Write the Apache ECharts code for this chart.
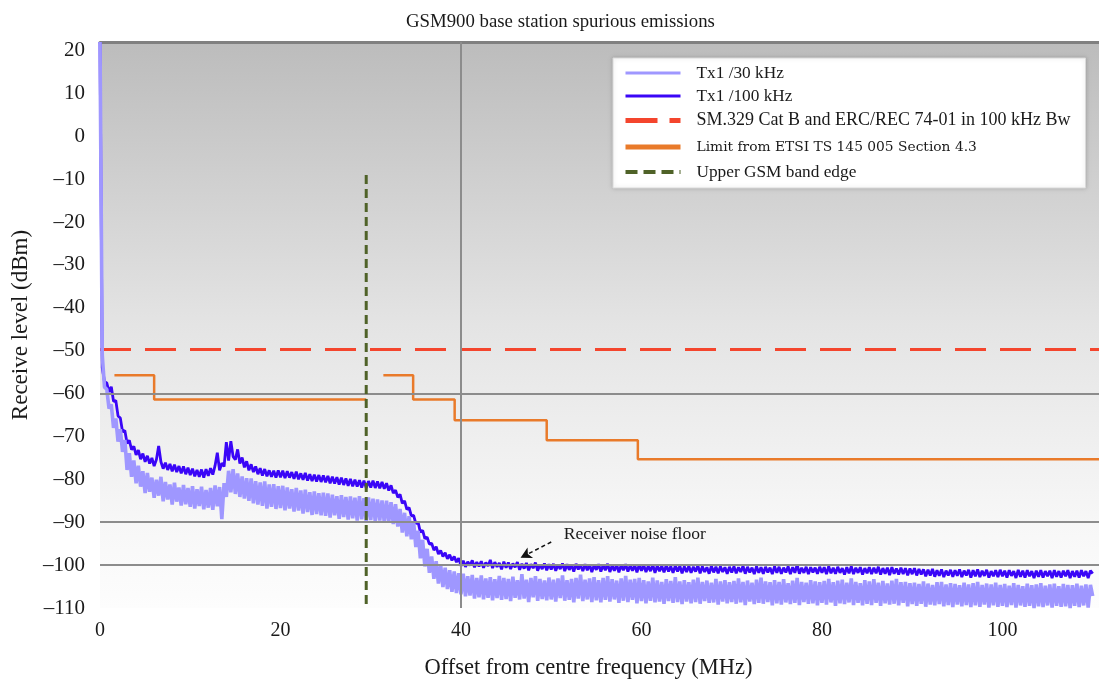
<!DOCTYPE html>
<html>
<head>
<meta charset="utf-8">
<title>GSM900 base station spurious emissions</title>
<script src="https://cdn.jsdelivr.net/npm/echarts@6/dist/echarts.min.js"></script>
<style>
  html, body { margin: 0; padding: 0; background: #ffffff; }
  #chart { width: 1099px; height: 680px; }
</style>
</head>
<body>
<div id="chart"></div>
<script>
// Offset grid of the measured traces: one sample every 0.25 MHz from 0 MHz.
const FREQ_STEP_MHZ = 0.25;

// Tx1 measured with 30 kHz resolution bandwidth (dBm), 0 .. 110 MHz
const tx1Rbw30k = [
  22, -51, -58.5, -59, -63.5, -62.5, -68, -65.8, -71.2, -68.3, -73.6, -70.8, -77.8, -73.9, -79.4, -75.6, -80.9, -76.8, -81.7, -78.1,
  -83.2, -78.5, -82.9, -79.6, -84.3, -80.1, -83.8, -79.4, -85.1, -80.6, -84.7, -81.2, -85.9, -80.8, -85.2, -81.9, -86.1, -81.3, -85.8, -82.0,
  -86.4, -81.6, -86.8, -82.3, -86.2, -81.7, -87.0, -82.5, -86.6, -82.0, -87.1, -81.4, -86.3, -81.8, -89.3, -80.9, -84.1, -78.0, -83.0, -77.6,
  -83.4, -78.6, -84.1, -79.3, -84.5, -79.7, -85.0, -79.8, -85.6, -80.4, -85.9, -80.7, -86.2, -80.5, -86.8, -81.2, -86.4, -81.1, -86.9, -81.6,
  -86.7, -81.5, -87.2, -81.9, -86.8, -82.3, -87.5, -82.0, -87.3, -82.6, -88.0, -82.4, -87.6, -83.0, -88.3, -82.8, -88.1, -83.2, -88.4, -83.1,
  -88.5, -83.3, -88.9, -83.6, -88.4, -83.9, -89.2, -83.7, -88.8, -84.1, -89.4, -84.0, -89.1, -84.3, -89.6, -83.9, -89.3, -84.4, -89.7, -84.2,
  -89.5, -84.5, -89.8, -84.7, -89.6, -84.9, -90.0, -85.0, -89.9, -85.3, -90.4, -85.8, -91.0, -86.9, -92.4, -87.8, -93.3, -88.6, -94.0, -89.9,
  -95.8, -92.0, -98.4, -94.1, -100.3, -96.2, -101.8, -98.0, -103.2, -99.1, -104.3, -100.0, -105.1, -100.6, -105.6, -101.2, -106.2, -101.5, -106.5, -101.9,
  -106.8, -102.0, -107.3, -102.6, -107.1, -102.3, -107.8, -103.0, -107.5, -102.4, -108.0, -103.1, -107.6, -102.8, -108.2, -103.3, -107.7, -102.5, -108.1, -103.0,
  -107.9, -103.2, -108.4, -102.7, -107.6, -103.5, -108.0, -102.1, -107.8, -103.4, -108.6, -103.0, -107.5, -102.6, -108.3, -103.2, -107.9, -103.6, -108.2, -102.9,
  -108.0, -103.4, -108.5, -103.1, -107.7, -102.4, -108.3, -103.5, -108.1, -103.2, -108.7, -103.0, -107.8, -102.2, -108.4, -103.4, -108.0, -103.1, -108.6, -102.8,
  -108.2, -103.5, -108.7, -103.0, -108.1, -102.6, -108.5, -103.3, -108.0, -103.6, -108.8, -103.1, -108.3, -102.5, -108.6, -103.4, -108.1, -103.2, -108.9, -103.0,
  -108.4, -103.5, -108.9, -103.8, -108.3, -102.9, -108.7, -103.6, -108.5, -103.9, -109.0, -103.3, -108.4, -103.7, -108.8, -102.8, -108.6, -103.8, -109.1, -103.5,
  -108.5, -104.0, -108.9, -103.4, -108.6, -102.9, -109.0, -103.9, -108.4, -103.6, -108.8, -104.1, -108.7, -103.2, -109.2, -103.8, -108.5, -103.5, -108.9, -104.0,
  -108.6, -103.7, -109.0, -103.1, -108.7, -103.9, -109.3, -103.6, -108.5, -104.1, -109.1, -103.4, -108.8, -102.9, -109.0, -103.8, -108.6, -104.0, -109.4, -103.5,
  -108.9, -103.9, -109.2, -103.3, -108.7, -104.2, -109.1, -103.6, -108.8, -103.0, -109.3, -103.9, -108.6, -104.1, -109.0, -103.5, -108.9, -103.8, -109.4, -104.0,
  -108.8, -103.7, -109.2, -103.2, -108.7, -104.0, -109.5, -103.6, -108.9, -103.4, -109.1, -104.1, -108.7, -103.1, -109.3, -103.9, -108.8, -104.2, -109.4, -103.5,
  -109.0, -103.8, -109.3, -103.3, -108.8, -104.1, -109.5, -103.7, -108.9, -104.3, -109.2, -103.6, -109.0, -103.2, -109.4, -104.0, -108.8, -103.9, -109.6, -104.2,
  -109.1, -104.1, -109.5, -104.4, -109.0, -103.8, -109.7, -104.3, -109.2, -104.6, -109.4, -104.0, -109.1, -103.9, -109.6, -104.5, -109.3, -104.2, -109.8, -104.4,
  -109.2, -104.7, -109.6, -104.1, -109.3, -104.5, -109.8, -104.2, -109.4, -103.9, -109.7, -104.6, -109.2, -104.3, -109.9, -104.5, -109.4, -104.1, -109.7, -104.6,
  -109.5, -104.4, -109.8, -104.8, -109.3, -104.2, -109.9, -104.6, -109.4, -104.9, -109.7, -104.3, -109.5, -104.7, -110.0, -104.5, -109.6, -104.2, -109.8, -104.8,
  -109.4, -104.5, -109.9, -104.3, -109.5, -104.9, -109.7, -104.4, -109.6, -104.6, -110.0, -104.7, -109.5, -104.3, -109.8, -104.8, -109.4, -104.5, -109.9, -104.6,
  -107.2
];

// Tx1 measured with 100 kHz resolution bandwidth (dBm), 0 .. 110 MHz
const tx1Rbw100k = [
  22, -54.0, -57.2, -57.5, -59.6, -58.4, -61.8, -61.6, -65.2, -65.7, -68.9, -68.6, -71.6, -70.9, -73.1, -72.3, -74.3, -73.2, -75.3, -74.0,
  -75.9, -74.5, -76.3, -75.0, -76.9, -75.4, -72.2, -75.9, -77.5, -76.1, -77.8, -76.4, -78.1, -76.6, -78.3, -76.9, -78.6, -77.0, -78.8, -77.3,
  -79.0, -77.5, -79.3, -77.8, -79.4, -77.7, -79.6, -77.6, -79.2, -77.4, -78.9, -76.8, -73.8, -77.9, -76.2, -77.0, -71.3, -75.6, -71.1, -74.7,
  -75.4, -73.0, -76.3, -74.9, -77.2, -75.8, -77.9, -76.5, -78.3, -77.0, -78.8, -77.4, -79.1, -77.6, -79.3, -77.9, -79.4, -78.0, -79.6, -77.9,
  -79.5, -78.0, -79.7, -78.1, -79.6, -78.3, -79.9, -78.2, -80.0, -78.6, -80.1, -78.5, -80.3, -78.8, -80.4, -78.9, -80.5, -79.0, -80.6, -79.1,
  -80.7, -79.2, -80.9, -79.4, -81.0, -79.5, -81.2, -79.6, -81.3, -79.8, -81.5, -79.9, -81.6, -80.1, -81.7, -80.2, -81.9, -80.3, -82.0, -80.4,
  -81.9, -80.3, -82.0, -80.5, -82.1, -80.6, -82.2, -80.9, -82.6, -81.4, -83.2, -82.5, -84.2, -83.5, -85.6, -85.0, -87.0, -86.6, -88.5, -88.4,
  -90.3, -90.0, -92.3, -91.9, -93.8, -93.5, -95.1, -94.9, -96.5, -95.7, -97.4, -96.6, -98.0, -97.1, -98.5, -97.6, -98.9, -98.0, -99.3, -98.4,
  -100.2, -99.0, -100.4, -99.2, -100.1, -98.9, -100.5, -99.3, -100.3, -99.1, -100.6, -99.4, -100.2, -98.8, -100.7, -99.3, -100.4, -99.5, -101.0, -99.2,
  -100.6, -99.4, -100.9, -99.6, -100.5, -99.3, -101.1, -99.7, -100.8, -99.5, -101.2, -99.8, -100.7, -99.4, -101.3, -99.9, -100.9, -99.6, -101.2, -99.8,
  -101.0, -99.7, -101.3, -99.9, -100.9, -99.6, -101.4, -99.8, -101.1, -99.9, -101.5, -99.7, -101.0, -100.0, -101.4, -99.8, -101.2, -99.9, -101.6, -100.0,
  -101.1, -99.8, -101.5, -100.0, -101.2, -99.7, -101.6, -100.1, -101.3, -99.9, -101.7, -100.0, -101.2, -99.8, -101.5, -100.1, -101.3, -100.0, -101.7, -99.9,
  -101.3, -100.0, -101.6, -100.2, -101.4, -99.9, -101.8, -100.1, -101.4, -100.2, -101.7, -100.0, -101.5, -100.3, -101.8, -100.1, -101.5, -100.2, -101.9, -100.3,
  -101.6, -100.2, -101.8, -100.4, -101.5, -100.1, -101.9, -100.3, -101.6, -100.5, -102.0, -100.2, -101.7, -100.4, -101.9, -100.3, -101.6, -100.5, -102.0, -100.4,
  -101.7, -100.3, -101.9, -100.5, -101.6, -100.2, -102.0, -100.4, -101.7, -100.6, -102.1, -100.3, -101.8, -100.5, -102.0, -100.4, -101.7, -100.6, -102.1, -100.3,
  -101.8, -100.4, -102.0, -100.6, -101.7, -100.3, -102.1, -100.5, -101.8, -99.9, -102.0, -100.6, -101.8, -100.4, -102.1, -100.5, -101.7, -100.6, -102.0, -100.4,
  -101.8, -100.5, -102.1, -100.3, -101.9, -100.6, -102.0, -100.4, -101.8, -100.7, -102.2, -100.5, -101.9, -100.3, -102.1, -100.6, -101.8, -100.5, -102.2, -100.7,
  -101.9, -100.5, -102.1, -100.6, -101.9, -100.4, -102.2, -100.7, -102.0, -100.6, -102.3, -100.5, -102.0, -100.8, -102.2, -100.6, -102.1, -100.7, -102.4, -100.8,
  -102.1, -100.7, -102.4, -100.9, -102.2, -101.0, -102.6, -101.1, -102.4, -100.9, -102.7, -101.2, -102.5, -101.0, -102.8, -101.3, -102.4, -101.1, -102.7, -101.2,
  -102.5, -101.0, -102.8, -101.3, -102.4, -101.1, -102.9, -101.2, -102.6, -101.0, -102.8, -101.3, -102.5, -101.1, -102.9, -101.4, -102.6, -101.2, -102.8, -101.1,
  -102.6, -101.3, -102.9, -101.2, -102.5, -101.4, -103.0, -101.1, -102.7, -101.3, -102.9, -101.2, -102.6, -101.4, -103.0, -101.3, -102.7, -101.2, -102.9, -101.4,
  -102.6, -101.3, -103.0, -101.2, -102.7, -101.4, -102.9, -101.3, -102.6, -101.2, -103.0, -101.4, -102.7, -101.3, -102.9, -101.2, -102.6, -101.4, -103.0, -101.3,
  -102.0
];

// SM.329 Category B / ERC/REC 74-01 limit in 100 kHz bandwidth (dBm)
const sm329Freq = [0, 110.7];
const sm329Level = [-49.7, -49.7];

// ETSI TS 145 005 section 4.3 limit, stepped (below and above the band edge)
const etsiLowFreq = [1.6, 6.0, 29.5];
const etsiLowLevel = [-55.7, -61.4, -61.4];
const etsiHighFreq = [31.4, 34.7, 39.3, 49.5, 59.6, 110.7];
const etsiHighLevel = [-55.7, -61.4, -66.2, -70.9, -75.3, -75.3];

// Upper edge of the GSM band
const bandEdgeFreq = [29.5, 29.5];
const bandEdgeLevel = [-9, -110];

// Reference lines drawn across the plot
const refLevels = [-60, -90, -100];
const refFreqs = [40];

// Noise floor note: text anchor and arrow (tail -> head) in MHz / dBm
const noteText = 'Receiver noise floor';
const noteAnchor = [51.4, -92.8];
const noteArrowFrom = [50.0, -94.6];
const noteArrowTo = [46.6, -98.3];

const titleText = 'GSM900 base station spurious emissions';
const xName = 'Offset from centre frequency (MHz)';
const yName = 'Receive level (dBm)';
const legendNames = [
  'Tx1 /30 kHz',
  'Tx1 /100 kHz',
  'SM.329 Cat B and ERC/REC 74-01 in 100 kHz Bw',
  'Limit from ETSI TS 145 005 Section 4.3',
  'Upper GSM band edge'
];

const SERIF = "'Liberation Serif', 'Times New Roman', serif";
const C_LIGHT = '#9f97ff';
const C_BLUE = '#3a06f7';
const C_RED = '#f4452d';
const C_ORANGE = '#e97a2a';
const C_GREEN = '#4f6228';

function pairs(xs, ys) { return xs.map((x, i) => [x, ys[i]]); }
function sampled(ys) { return ys.map((y, i) => [i * FREQ_STEP_MHZ, y]); }
const dashMinus = v => String(v).replace('-', '\u2013');

const chart = echarts.init(document.getElementById('chart'), null, { renderer: 'canvas' });

chart.setOption({
  animation: false,
  backgroundColor: '#ffffff',
  title: {
    text: titleText,
    left: 401,
    top: 8,
    textStyle: { fontFamily: SERIF, fontSize: 18.8, fontWeight: 'normal', color: '#1a1a1a' }
  },
  grid: {
    left: 100, right: 0, top: 42, bottom: 72,
    containLabel: false,
    outerBoundsMode: 'none',
    show: true,
    borderWidth: 0,
    backgroundColor: new echarts.graphic.LinearGradient(0, 0, 0, 1, [
      { offset: 0, color: '#bcbcbc' },
      { offset: 0.5, color: '#e4e4e4' },
      { offset: 0.85, color: '#f7f7f7' },
      { offset: 1, color: '#fdfdfd' }
    ])
  },
  legend: {
    orient: 'vertical',
    left: 613, top: 58,
    itemWidth: 55, itemHeight: 14, itemGap: 5,
    padding: [6, 15, 7, 10],
    backgroundColor: '#ffffff',
    borderColor: '#dadada', borderWidth: 1,
    shadowBlur: 4, shadowColor: 'rgba(0,0,0,0.18)',
    selectedMode: false,
    itemStyle: { opacity: 0 },
    textStyle: { fontFamily: SERIF, fontSize: 17.3, lineHeight: 18, color: '#1a1a1a', padding: [0, 0, 0, 11] },
    data: [
      { name: legendNames[0], lineStyle: { width: 3 } },
      { name: legendNames[1], lineStyle: { width: 3 } },
      { name: legendNames[2], lineStyle: { width: 5, type: [32, 12] }, textStyle: { fontSize: 18, lineHeight: 21 } },
      { name: legendNames[3], lineStyle: { width: 5 }, textStyle: { fontFamily: "'DejaVu Serif', serif", fontSize: 13.8, lineHeight: 22 } },
      { name: legendNames[4], lineStyle: { width: 4, type: [12, 6] } }
    ]
  },
  xAxis: [{
    type: 'value', min: 0, max: 110.7, interval: 20,
    axisLine: { show: false }, axisTick: { show: false }, splitLine: { show: false },
    axisLabel: { showMaxLabel: false, margin: 13, fontFamily: SERIF, fontSize: 20, color: '#1a1a1a', formatter: dashMinus },
    name: xName, nameLocation: 'middle', nameGap: 49,
    nameTextStyle: { fontFamily: SERIF, fontSize: 22.5, color: '#1a1a1a', padding: [0, 22, 0, 0] }
  }, {
    type: 'value', position: 'top', min: 0, max: 110.7,
    axisLine: { show: true, lineStyle: { color: '#808080', width: 3 } },
    axisTick: { show: false }, axisLabel: { show: false }, splitLine: { show: false }
  }],
  yAxis: {
    type: 'value', min: -110, max: 22, interval: 10,
    axisLine: { show: false }, axisTick: { show: false }, splitLine: { show: false },
    axisLabel: { showMaxLabel: false, margin: 15, fontFamily: SERIF, fontSize: 21, color: '#1a1a1a', formatter: dashMinus },
    name: yName, nameLocation: 'middle', nameGap: 67, nameRotate: 90,
    nameTextStyle: { fontFamily: SERIF, fontSize: 23, color: '#1a1a1a' }
  },
  series: [
    {
      name: 'reference lines', type: 'line', data: [], z: 1, silent: true,
      markLine: {
        silent: true, symbol: ['none', 'none'], animation: false,
        label: { show: false },
        lineStyle: { color: '#8c8c8c', width: 2, type: 'solid' },
        data: refLevels.map(v => ({ yAxis: v })).concat(refFreqs.map(v => ({ xAxis: v })))
      }
    },
    {
      name: legendNames[2], type: 'line', data: pairs(sm329Freq, sm329Level), z: 2,
      showSymbol: false, symbol: 'none', silent: true,
      lineStyle: { color: C_RED, width: 3, type: [31, 14] }, itemStyle: { color: C_RED }
    },
    {
      name: legendNames[3], type: 'line', step: 'end', data: pairs(etsiLowFreq, etsiLowLevel), z: 2,
      showSymbol: false, symbol: 'none', silent: true,
      lineStyle: { color: C_ORANGE, width: 2.5 }, itemStyle: { color: C_ORANGE }
    },
    {
      name: legendNames[3], type: 'line', step: 'end', data: pairs(etsiHighFreq, etsiHighLevel), z: 2,
      showSymbol: false, symbol: 'none', silent: true,
      lineStyle: { color: C_ORANGE, width: 2.5 }, itemStyle: { color: C_ORANGE }
    },
    {
      name: legendNames[1], type: 'line', data: sampled(tx1Rbw100k), z: 3,
      showSymbol: false, symbol: 'none', silent: true,
      lineStyle: { color: C_BLUE, width: 2.8, join: 'bevel' }, itemStyle: { color: C_BLUE }
    },
    {
      name: legendNames[0], type: 'line', data: sampled(tx1Rbw30k), z: 4,
      showSymbol: false, symbol: 'none', silent: true,
      lineStyle: { color: C_LIGHT, width: 3.6, join: 'bevel' }, itemStyle: { color: C_LIGHT }
    },
    {
      name: legendNames[4], type: 'line', data: pairs(bandEdgeFreq, bandEdgeLevel), z: 5,
      showSymbol: false, symbol: 'none', silent: true,
      lineStyle: { color: C_GREEN, width: 3, type: [9, 5] }, itemStyle: { color: C_GREEN }
    },
    {
      name: 'note', type: 'line', data: [], z: 6, silent: true,
      markLine: {
        silent: true, animation: false,
        symbol: ['none', 'arrow'], symbolSize: [9, 11],
        label: { show: false },
        lineStyle: { color: '#111111', width: 1.5, type: [4, 3], curveness: 0.25 },
        data: [[{ coord: noteArrowFrom }, { coord: noteArrowTo }]]
      },
      markPoint: {
        silent: true, animation: false,
        symbol: 'circle', symbolSize: 0,
        label: {
          show: true, position: 'right', distance: 0,
          fontFamily: SERIF, fontSize: 17.5, color: '#1a1a1a',
          formatter: () => noteText
        },
        data: [{ coord: noteAnchor, name: noteText }]
      }
    }
  ]
});
</script>
</body>
</html>
